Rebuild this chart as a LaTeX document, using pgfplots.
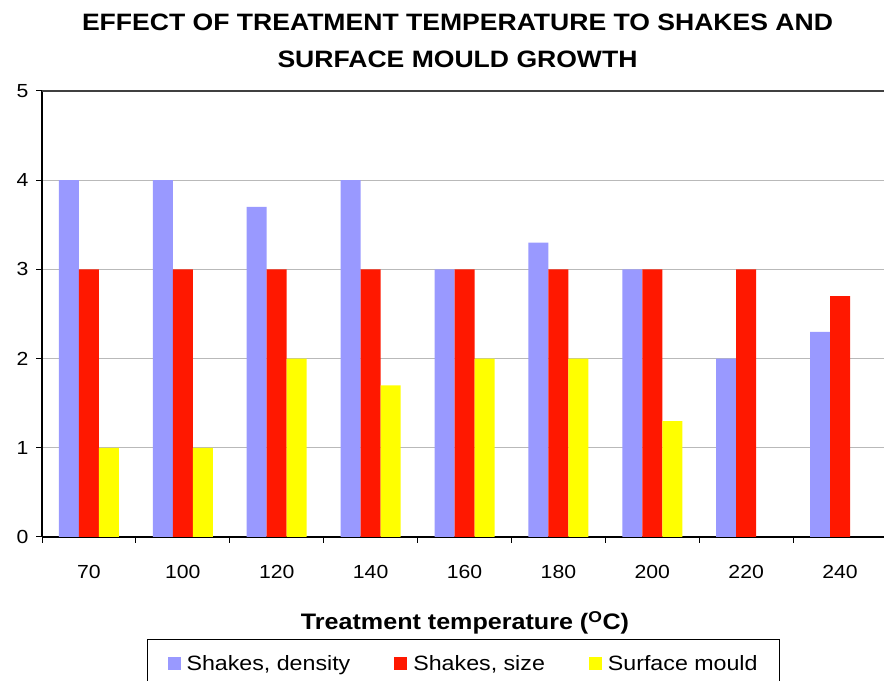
\documentclass[border=0pt]{standalone}
\usepackage{pgfplots}
\pgfplotsset{compat=1.18}
\usepackage{fontspec}
\setmainfont{Liberation Sans}[FakeStretch=1.12]
\definecolor{cdens}{RGB}{153,153,255}
\definecolor{csize}{RGB}{255,24,0}
\definecolor{cmould}{RGB}{255,255,0}
\begin{document}
\begin{tikzpicture}[x=1bp,y=1bp]
\clip (0,0) rectangle (884,681);
\fill[white] (0,0) rectangle (884,681);
\begin{axis}[
  at={(42bp,144bp)}, anchor=south west,
  width=845bp, height=446bp, scale only axis,
  ymin=0, ymax=5, xmin=-0.5, xmax=8.5,
  ybar=0pt, bar width=20bp,
  ytick={0,1,2,3,4,5},
  xtick={-0.5,0.5,1.5,2.5,3.5,4.5,5.5,6.5,7.5},
  xticklabels={70,100,120,140,160,180,200,220,240},
  xticklabel style={xshift=46.95bp, yshift=-19bp},
  yticklabel style={xshift=-4bp},
  ticklabel style={font=\fontsize{19}{23}\selectfont},
  /pgf/number format/assume math mode=true,
  tick align=outside, major tick length=6bp,
  tick style={black, line width=1bp},
  axis x line*=bottom, axis y line*=left,
  axis line style={-, black, line width=1.3bp},
  ymajorgrids, grid style={gray!55, line width=1.1bp},
  legend style={at={(0.1243,-0.2287)}, anchor=north west, draw=black, line width=1bp,
    font=\fontsize{20.8}{25}\selectfont, inner xsep=20bp, inner ysep=14bp,
    /tikz/every odd column/.append style={column sep=4bp},
    /tikz/every even column/.append style={column sep=42bp}},
  legend columns=3,
  legend image code/.code={\fill[#1] (0bp,-6.5bp) rectangle (13bp,6.5bp);},
  every axis plot/.append style={draw=none},
]
\addplot[fill=cdens] coordinates {(0,4) (1,4) (2,3.7) (3,4) (4,3) (5,3.3) (6,3) (7,2) (8,2.3)};
\addplot[fill=csize] coordinates {(0,3) (1,3) (2,3) (3,3) (4,3) (5,3) (6,3) (7,3) (8,2.7)};
\addplot[fill=cmould] coordinates {(0,1) (1,1) (2,2) (3,1.7) (4,2) (5,2) (6,1.3)};
\legend{Shakes{,} density, Shakes{,} size, Surface mould}
\draw[black!75, line width=1.4bp] (axis cs:-0.5,5) -- (axis cs:8.5,5);
\end{axis}
\node[font=\fontsize{23.8}{28}\selectfont\bfseries, anchor=base] at (457.5,650) {EFFECT OF TREATMENT TEMPERATURE TO SHAKES AND};
\node[font=\fontsize{23.8}{28}\selectfont\bfseries, anchor=base] at (457.5,613) {SURFACE MOULD GROWTH};
\node[font=\fontsize{22.5}{27}\selectfont\bfseries, anchor=base] at (465,51) {Treatment temperature (\textsuperscript{O}C)};
\end{tikzpicture}
\end{document}
